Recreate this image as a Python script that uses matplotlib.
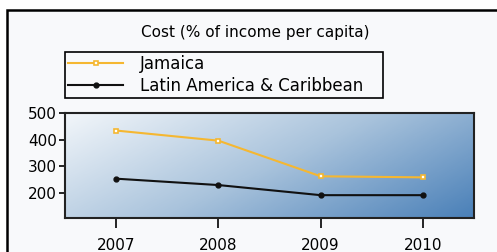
import numpy as np
import matplotlib
matplotlib.use("Agg")
import matplotlib.pyplot as plt
from matplotlib.colors import LinearSegmentedColormap
from matplotlib.patches import Rectangle

years = [2007, 2008, 2009, 2010]
jamaica = [434, 396, 262, 258]
lac = [253, 229, 191, 191]
yticks = [200, 300, 400, 500]
title = "Cost (% of income per capita)"
labels = ["Jamaica", "Latin America & Caribbean"]

W, H = 497, 252
fig = plt.figure(figsize=(W / 100, H / 100), dpi=100)
fig.patch.set_facecolor("white")

# outer frame on a background axes
bg = fig.add_axes([0, 0, 1, 1], zorder=-5)
bg.set_xlim(0, W)
bg.set_ylim(H, 0)
bg.axis("off")
bg.add_patch(Rectangle((7, 10), W, H, facecolor="#f8f9fb", edgecolor="black",
                       linewidth=1.8))

left, right, top, bottom = 65, 474, 113, 217.5
ax = fig.add_axes([left / W, 1 - bottom / H, (right - left) / W, (bottom - top) / H])
ax.set_xlim(2006.5, 2010.5)
ax.set_ylim(107, 500)

# gradient background
cmap = LinearSegmentedColormap.from_list("g", ["#f2f6fa", "#a9c3dc", "#4a80b8"])
xx, yy = np.meshgrid(np.linspace(0, 1, 200), np.linspace(0, 1, 100))
grad = (xx * 0.65 + yy * 0.35)
ax.imshow(grad, extent=[2006.5, 2010.5, 107, 500], origin="upper", aspect="auto",
          cmap=cmap, zorder=0)

ax.plot(years, jamaica, color="#f5b731", lw=1.5, marker="s", ms=3.5,
        mfc="white", mec="#f5b731", mew=1.2, zorder=3, label=labels[0])
ax.plot(years, lac, color="#111111", lw=1.5, marker="o", ms=3.5, zorder=3,
        label=labels[1])

ax.set_xticks(years)
ax.set_xticklabels([str(y) for y in years], fontsize=11)
ax.set_yticks(yticks)
ax.set_yticklabels([str(v) for v in yticks], fontsize=11)
ax.tick_params(axis="x", length=7, width=1.2, pad=8, direction="out")
ax.tick_params(axis="y", length=4, width=1.2, pad=2, direction="out")
for s in ax.spines.values():
    s.set_linewidth(1.5)
    s.set_color("#222222")

fig.text(255 / W, 1 - 32 / H, title, ha="center", va="center", fontsize=11)

leg = ax.legend(loc="upper left",
                bbox_to_anchor=(65 / W, 1 - 100 / H, 318 / W, 48 / H),
                mode="expand", bbox_transform=fig.transFigure, fontsize=12,
                frameon=True, fancybox=False, framealpha=1, borderpad=0.2,
                labelspacing=0.2, handlelength=3.3, handletextpad=1.0,
                borderaxespad=0)
leg.get_frame().set_edgecolor("black")
leg.get_frame().set_linewidth(1.2)
leg.get_frame().set_facecolor("#f8f9fb")

fig.savefig("out.png", dpi=100)
